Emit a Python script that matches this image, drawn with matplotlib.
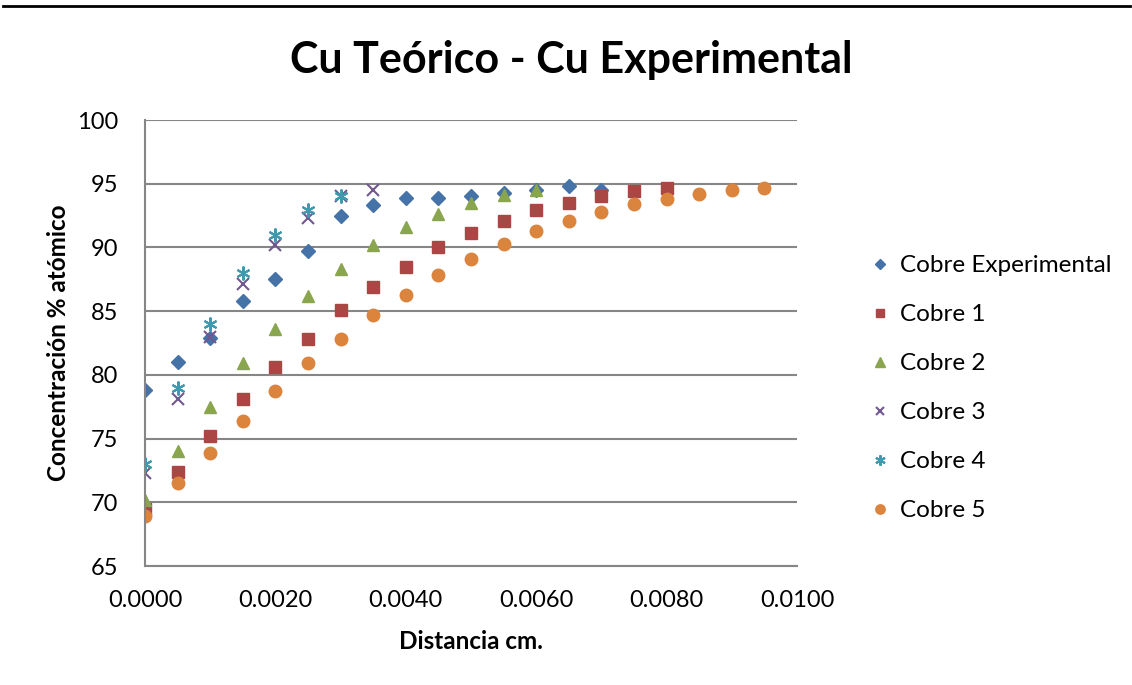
"""Cu Teórico - Cu Experimental scatter chart."""

import matplotlib

matplotlib.use("Agg")

import matplotlib.pyplot as plt
from matplotlib.lines import Line2D

plt.rcParams["font.family"] = ["Lato", "DejaVu Sans"]

x_exp = [0.0, 0.0005, 0.0010, 0.0015, 0.0020, 0.0025, 0.0030, 0.0035, 0.0040,
         0.0045, 0.0050, 0.0055, 0.0060, 0.0065, 0.0070]
cobre_exp = [78.8, 81.0, 82.9, 85.8, 87.5, 89.7, 92.5, 93.3, 93.9,
             93.9, 94.0, 94.3, 94.5, 94.8, 94.5]

x_c1 = [0.0, 0.0005, 0.0010, 0.0015, 0.0020, 0.0025, 0.0030, 0.0035, 0.0040,
        0.0045, 0.0050, 0.0055, 0.0060, 0.0065, 0.0070, 0.0075, 0.0080]
cobre_1 = [69.5, 72.4, 75.2, 78.1, 80.6, 82.8, 85.1, 86.9, 88.5,
           90.0, 91.1, 92.1, 92.9, 93.5, 94.0, 94.4, 94.7]

x_c2 = [0.0, 0.0005, 0.0010, 0.0015, 0.0020, 0.0025, 0.0030, 0.0035, 0.0040,
        0.0045, 0.0050, 0.0055, 0.0060]
cobre_2 = [70.2, 74.0, 77.5, 80.9, 83.6, 86.2, 88.3, 90.2, 91.6,
           92.6, 93.5, 94.1, 94.5]

x_c3 = [0.0, 0.0005, 0.0010, 0.0015, 0.0020, 0.0025, 0.0030, 0.0035]
cobre_3 = [72.3, 78.1, 83.0, 87.1, 90.2, 92.3, 94.0, 94.5]

x_c4 = [0.0, 0.0005, 0.0010, 0.0015, 0.0020, 0.0025, 0.0030]
cobre_4 = [73.0, 79.0, 84.0, 88.0, 91.0, 92.9, 94.0]

x_c5 = [0.0, 0.0005, 0.0010, 0.0015, 0.0020, 0.0025, 0.0030, 0.0035, 0.0040,
        0.0045, 0.0050, 0.0055, 0.0060, 0.0065, 0.0070, 0.0075, 0.0080,
        0.0085, 0.0090, 0.0095]
cobre_5 = [68.9, 71.5, 73.9, 76.4, 78.7, 80.9, 82.8, 84.7, 86.3,
           87.8, 89.1, 90.3, 91.3, 92.1, 92.8, 93.4, 93.8,
           94.2, 94.5, 94.7]

x_ticks = [0.0, 0.002, 0.004, 0.006, 0.008, 0.010]
y_ticks = [65, 70, 75, 80, 85, 90, 95, 100]


def main():
    fig = plt.figure(figsize=(11.32, 6.85), dpi=100)
    ax = fig.add_axes([0.1281, 0.1737, 0.5760, 0.6511])

    ax.plot(x_exp, cobre_exp, ls="none", marker="D", ms=7, color="#4572A7",
            label="Cobre Experimental")
    ax.plot(x_c1, cobre_1, ls="none", marker="s", ms=8.5, color="#AA4643",
            label="Cobre 1")
    ax.plot(x_c2, cobre_2, ls="none", marker="^", ms=9, color="#89A54E",
            label="Cobre 2")
    ax.plot(x_c3, cobre_3, ls="none", marker="x", ms=8, mew=1.5,
            color="#71588F", label="Cobre 3")
    ax.plot(x_c4, cobre_4, ls="none", marker=(6, 2, 0), ms=10, mew=1.5,
            color="#4198AF", label="Cobre 4")
    ax.plot(x_c5, cobre_5, ls="none", marker="o", ms=9, color="#DB843D",
            label="Cobre 5")

    ax.set_xlim(0, 0.01)
    ax.set_ylim(65, 100)
    ax.set_xticks(x_ticks)
    ax.set_xticklabels([f"{v:.4f}" for v in x_ticks])
    ax.set_yticks(y_ticks)
    ax.tick_params(labelsize=17, length=0)
    ax.tick_params(axis="x", pad=17)
    ax.tick_params(axis="y", pad=19)
    ax.grid(True, axis="y", color="#868686", lw=1.5)
    ax.set_axisbelow(True)
    for side in ("top", "right"):
        ax.spines[side].set_visible(False)
    for side in ("left", "bottom"):
        ax.spines[side].set_color("#868686")
        ax.spines[side].set_linewidth(1.5)

    ax.set_xlabel("Distancia cm.", fontsize=17.5, fontweight="bold", labelpad=14)
    ax.set_ylabel("Concentración % atómico", fontsize=17.5, fontweight="bold",
                  labelpad=5)
    fig.suptitle("Cu Teórico - Cu Experimental", x=0.505, y=0.912, va="center",
                 fontsize=31, fontweight="bold")

    fig.legend(loc="center left", bbox_to_anchor=(0.767, 0.433), frameon=False,
               fontsize=17.5, labelspacing=1.15, handletextpad=0.3,
               handlelength=1.0, borderpad=0, borderaxespad=0, markerscale=0.75)

    fig.add_artist(Line2D([0.003, 0.998], [0.991, 0.991], color="black",
                          lw=2, transform=fig.transFigure))
    fig.savefig("out.png", dpi=100)


if __name__ == "__main__":
    main()
